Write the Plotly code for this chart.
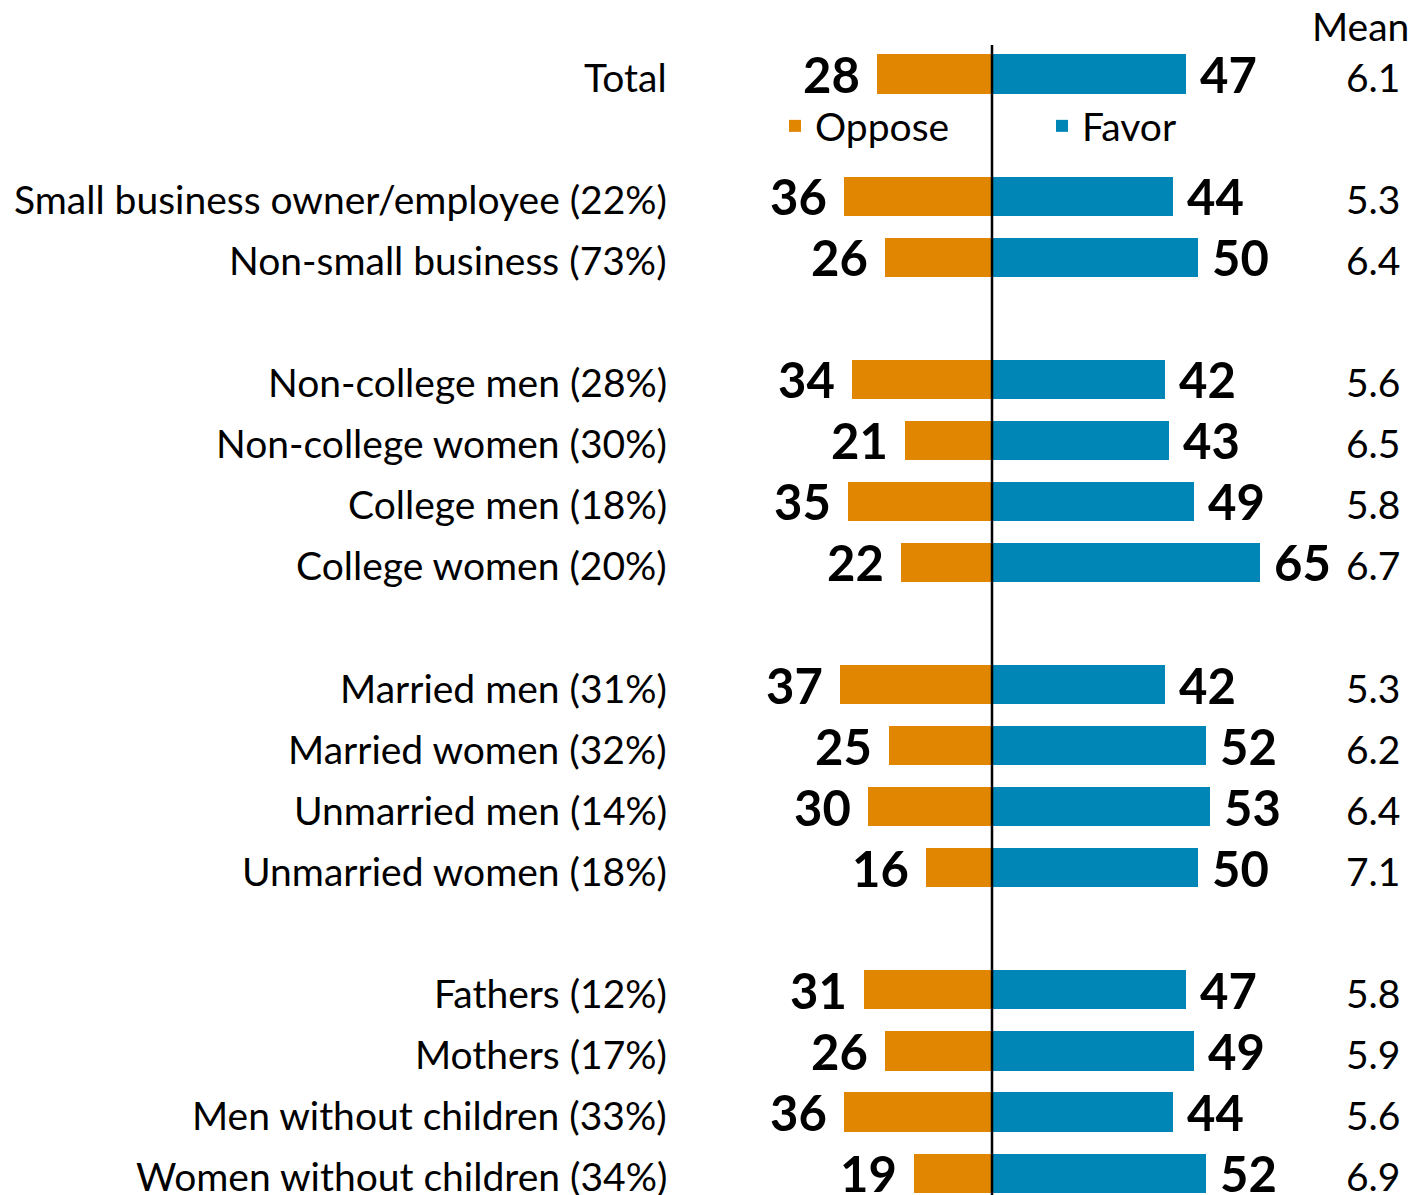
import plotly.graph_objects as go

# ---------------- data ----------------
categories = [
    "Total",
    "Small business owner/employee (22%)",
    "Non-small business (73%)",
    "Non-college men (28%)",
    "Non-college women (30%)",
    "College men (18%)",
    "College women (20%)",
    "Married men (31%)",
    "Married women (32%)",
    "Unmarried men (14%)",
    "Unmarried women (18%)",
    "Fathers (12%)",
    "Mothers (17%)",
    "Men without children (33%)",
    "Women without children (34%)",
]
group_sizes = [1, 2, 4, 4, 4]
oppose = [28, 36, 26, 34, 21, 35, 22, 37, 25, 30, 16, 31, 26, 36, 19]
favor = [47, 44, 50, 42, 43, 49, 65, 42, 52, 53, 50, 47, 49, 44, 52]
mean = ["6.1", "5.3", "6.4", "5.6", "6.5", "5.8", "6.7", "5.3",
        "6.2", "6.4", "7.1", "5.8", "5.9", "5.6", "6.9"]
mean_title = "Mean"

# ---------------- style ----------------
W, H = 1413, 1195
ORANGE = "#E08600"
BLUE = "#0086B6"
FONT = "Lato"
TOP = 45
PX_PER_UNIT = 4.12
ZERO_PX = 992
ROW_PX = 61.06
ROW0_PX = 74

# row positions: one blank row after each group
positions = []
pos = 0
for g in group_sizes:
    for _ in range(g):
        positions.append(pos)
        pos += 1
    pos += 1

plot_h = H - TOP
y_top = -(ROW0_PX - TOP) / ROW_PX
y_bot = y_top + plot_h / ROW_PX
x_lo = -ZERO_PX / PX_PER_UNIT
x_hi = (W - ZERO_PX) / PX_PER_UNIT

fig = go.Figure()
fig.add_trace(go.Bar(
    y=positions, x=[-v for v in oppose], orientation="h", name="Oppose",
    marker=dict(color=ORANGE, line=dict(width=0)), width=0.64,
    legend="legend", hoverinfo="skip",
))
fig.add_trace(go.Bar(
    y=positions, x=favor, orientation="h", name="Favor",
    marker=dict(color=BLUE, line=dict(width=0)), width=0.64,
    legend="legend2", hoverinfo="skip",
))

annotations = []
for cat, p, o, f, m in zip(categories, positions, oppose, favor, mean):
    annotations.append(dict(
        x=669 / W, xref="paper", y=p, yref="y", text=cat, showarrow=False,
        xanchor="right", yanchor="middle", yshift=-3,
        font=dict(family=FONT, size=39, color="black"),
    ))
    annotations.append(dict(
        x=-o, xref="x", y=p, yref="y", text=str(o), showarrow=False,
        xanchor="right", yanchor="middle", xshift=-15, yshift=0,
        font=dict(family=FONT, size=49, color="black", weight=700),
    ))
    annotations.append(dict(
        x=f, xref="x", y=p, yref="y", text=str(f), showarrow=False,
        xanchor="left", yanchor="middle", xshift=12, yshift=0,
        font=dict(family=FONT, size=49, color="black", weight=700),
    ))
    annotations.append(dict(
        x=1373 / W, xref="paper", y=p, yref="y", text=m, showarrow=False,
        xanchor="center", yanchor="middle", yshift=-3,
        font=dict(family=FONT, size=39, color="black"),
    ))
annotations.append(dict(
    x=1411 / W, xref="paper", y=1 + (TOP - 26) / plot_h, yref="paper",
    text=mean_title, showarrow=False, xanchor="right", yanchor="middle",
    font=dict(family=FONT, size=39, color="black"),
))

fig.update_layout(
    width=W, height=H,
    margin=dict(l=0, r=0, t=TOP, b=0, pad=0),
    paper_bgcolor="white", plot_bgcolor="white",
    barmode="relative", bargap=0,
    xaxis=dict(range=[x_lo, x_hi], showgrid=False, zeroline=False,
               showticklabels=False, ticks="", showline=False, fixedrange=True),
    yaxis=dict(range=[y_bot, y_top], visible=False, fixedrange=True),
    annotations=annotations,
    shapes=[dict(type="line", xref="x", x0=0, x1=0, yref="paper", y0=0, y1=1,
                 line=dict(color="black", width=2.5), layer="above")],
    showlegend=True,
    legend=dict(orientation="h", x=775 / W, xanchor="left",
                y=1 - (126 - TOP) / plot_h, yanchor="middle",
                font=dict(family=FONT, size=39, color="black"),
                bgcolor="rgba(0,0,0,0)", borderwidth=0),
    legend2=dict(orientation="h", x=1042 / W, xanchor="left",
                 y=1 - (126 - TOP) / plot_h, yanchor="middle",
                 font=dict(family=FONT, size=39, color="black"),
                 bgcolor="rgba(0,0,0,0)", borderwidth=0),
)

fig.write_html(
    "out.html",
    config={"displayModeBar": False},
    post_script="document.body.style.margin='0';document.body.style.overflow='hidden';",
)
